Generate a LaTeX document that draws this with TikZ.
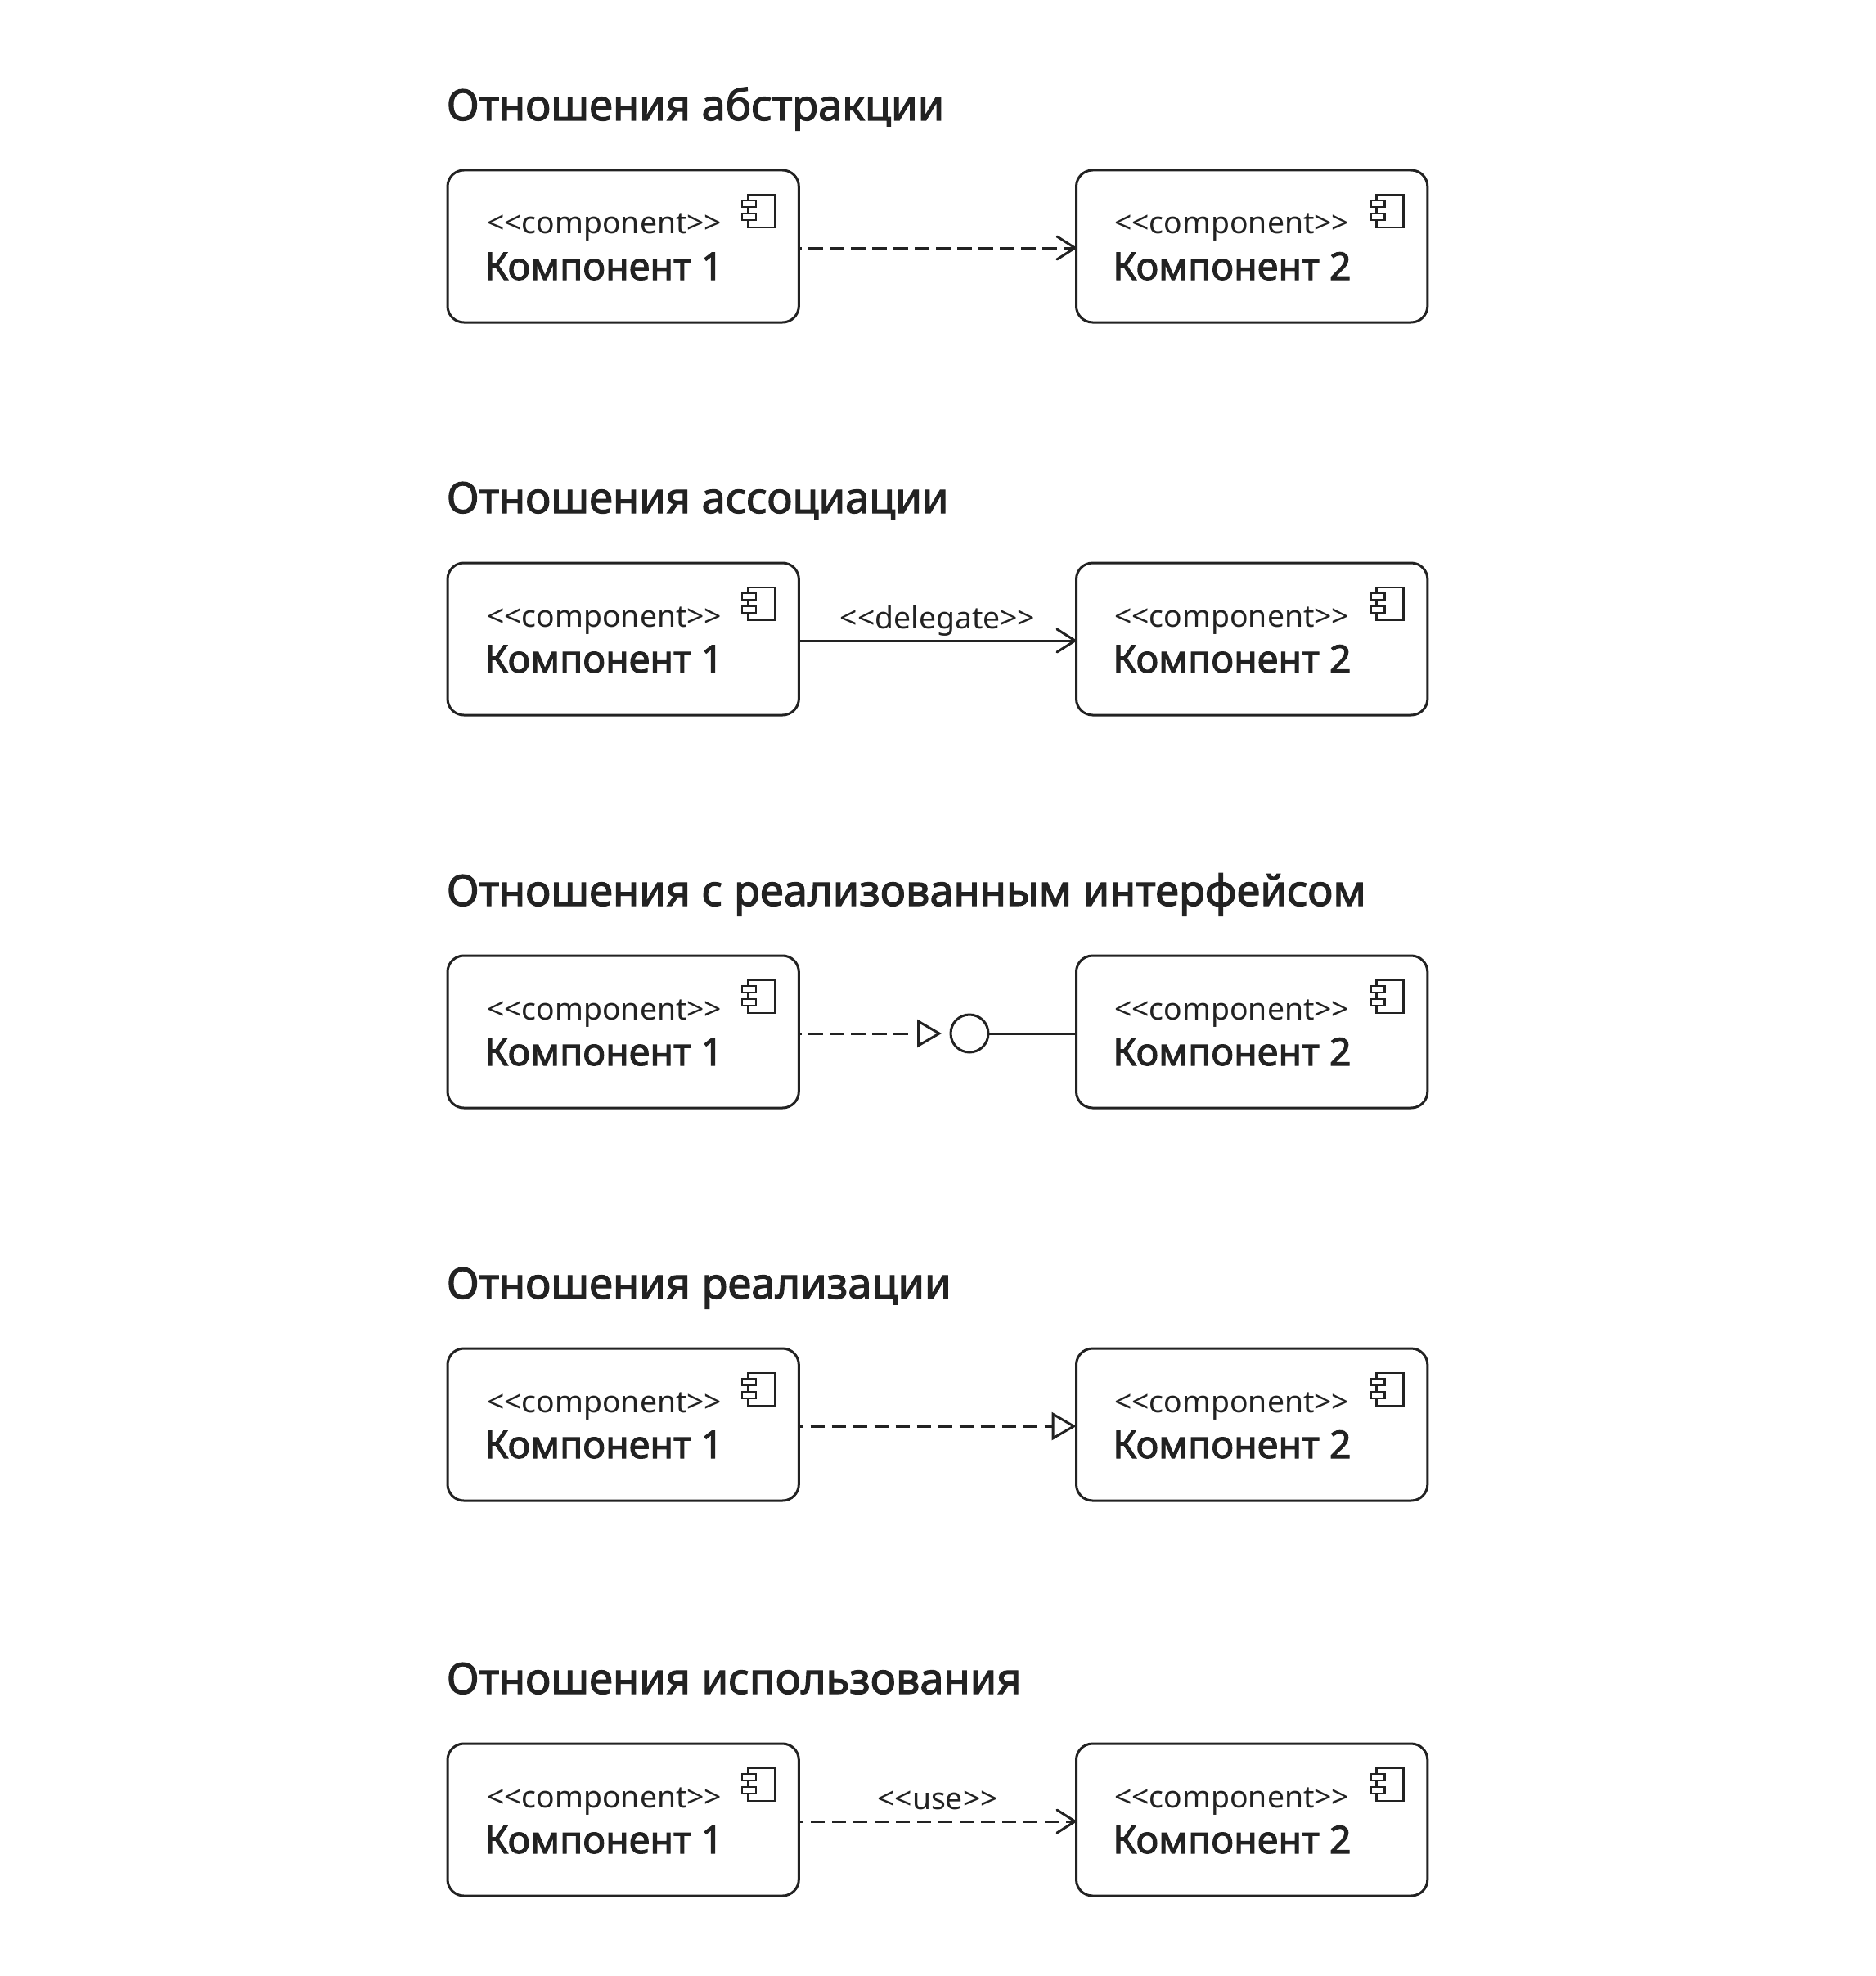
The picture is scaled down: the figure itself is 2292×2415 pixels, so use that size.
\documentclass[tikz,border=0pt]{standalone}
\usepackage{fontspec}
\setmainfont{Noto Sans}
\newfontfamily\plainfont{Noto Sans}
\newfontfamily\titlefont[FakeBold=2.2]{Noto Sans}
\usetikzlibrary{arrows.meta}
\definecolor{ink}{HTML}{222222}
\tikzset{
  x=0.75pt,y=-0.75pt,
  ink line/.style={draw=ink,line width=2.25pt},
  compbox/.style={ink line,rounded corners=15pt,minimum width=322pt,minimum height=139.5pt,inner sep=0pt,outer sep=0pt,anchor=north west},
  titletext/.style={anchor=base west,inner sep=0pt,text=ink,font=\titlefont\fontsize{39.3}{42}\selectfont},
  stereo/.style={anchor=base west,inner sep=0pt,text=ink,font=\plainfont\fontsize{28}{32}\selectfont},
  compname/.style={anchor=base west,inner sep=0pt,text=ink,font=\titlefont\fontsize{35}{40}\selectfont},
  edgetext/.style={anchor=base,inner sep=0pt,text=ink,font=\plainfont\fontsize{28}{32}\selectfont},
  rel/.style={draw=ink,line width=2.25pt},
  reldash/.style={rel,dash pattern=on 13.3pt off 6.2pt,dash phase=#1},
  reldash/.default=10.5pt,
  barb/.style={-{Straight Barb[length=16.5pt,width=21pt,line width=2.25pt,round]}},
  tri/.style={-{Triangle[open,length=22.5pt,width=25.5pt,line width=2.25pt,fill=white]}},
}
\newcommand{\iconpart}[2]{%
  \draw[ink line,line width=1.9pt] (#1+367,#2+30) rectangle (#1+400,#2+70);
  \draw[ink line,line width=1.9pt,fill=white] (#1+360,#2+37) rectangle (#1+377,#2+45);
  \draw[ink line,line width=1.9pt,fill=white] (#1+360,#2+53) rectangle (#1+377,#2+61);
}
\newcommand{\comprow}[3]{%
  \node[compbox] (a#3) at (547,#1) {};
  \node[compbox] (b#3) at (1315.5,#1) {};
  \node[stereo] (as#3) at (595,#1+78) {<<component>>};
  \node[stereo] (bs#3) at (1362,#1+78) {<<component>>};
  \node[compname] (an#3) at (592,#1+134) {Компонент 1};
  \node[compname] (bn#3) at (1360,#1+134) {Компонент 2};
  \iconpart{547}{#1}
  \iconpart{1315.5}{#1}
  \node[titletext] (t#3) at (545.5,#1-61) {#2};
}
\begin{document}
\begin{tikzpicture}
\useasboundingbox (0,0) rectangle (2292,2415);
\comprow{208}{Отношения абстракции}{1}
\comprow{688}{Отношения ассоциации}{2}
\comprow{1168}{Отношения с реализованным интерфейсом}{3}
\comprow{1648}{Отношения реализации}{4}
\comprow{2131}{Отношения использования}{5}
\draw[reldash,barb] (a1.east |- 0,303) -- (b1.west |- 0,303);
\draw[rel,barb] (a2.east |- 0,783) -- (b2.west |- 0,783);
\node[edgetext] (l2) at (1146,768) {<<delegate>>};
\node[draw=ink,line width=2.25pt,circle,minimum size=34.5pt,inner sep=0pt,outer sep=0pt] (c3) at (1185,1263) {};
\coordinate (t3) at (1112,1263);
\coordinate (t3b) at (1121,1263);
\coordinate (t3c) at (1151,1263);
\draw[reldash] (a3.east |- t3) -- (t3);
\draw[rel,tri] (t3b) -- (t3c);
\draw[rel] (c3) -- (b3.west |- c3);
\draw[reldash=8.8pt,tri] (a4.east |- 0,1743) -- (b4.west |- 0,1743);
\draw[reldash=8.8pt,barb] (a5.east |- 0,2226) -- (b5.west |- 0,2226);
\node[edgetext] (l5) at (1146,2211) {<<use>>};
\end{tikzpicture}
\end{document}
